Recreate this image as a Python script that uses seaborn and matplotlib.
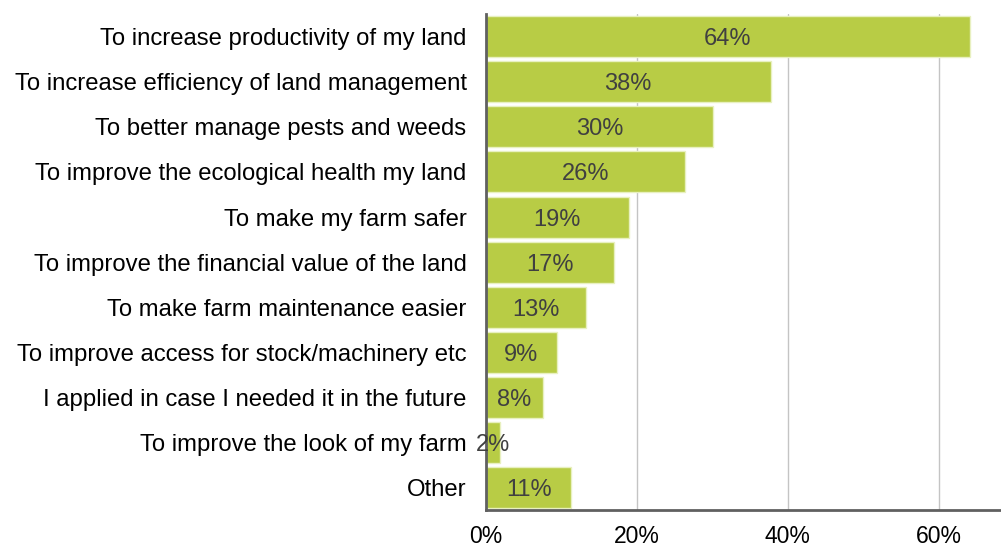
import matplotlib
matplotlib.use("Agg")
import matplotlib.pyplot as plt
import seaborn as sns
import pandas as pd

reasons = [
    "To increase productivity of my land",
    "To increase efficiency of land management",
    "To better manage pests and weeds",
    "To improve the ecological health my land",
    "To make my farm safer",
    "To improve the financial value of the land",
    "To make farm maintenance easier",
    "To improve access for stock/machinery etc",
    "I applied in case I needed it in the future",
    "To improve the look of my farm",
    "Other",
]
shares = [64, 38, 30, 26, 19, 17, 13, 9, 8, 2, 11]
bar_ends = [64.1, 37.7, 30.1, 26.4, 18.9, 16.9, 13.2, 9.4, 7.5, 1.9, 11.3]
x_ticks = [0, 20, 40, 60]

df = pd.DataFrame({"reason": reasons, "share": bar_ends})

sns.set_theme(style="white")
plt.rcParams["font.family"] = ["Liberation Sans", "DejaVu Sans"]

fig = plt.figure(figsize=(10.01, 5.47), dpi=100)
ax = fig.add_axes([0.4855, 0.0676, 0.5135, 0.9064])

sns.barplot(data=df, x="share", y="reason", orient="h", color="#B8CC45",
            saturation=1, width=0.91, edgecolor="#E8F0C0", linewidth=1, ax=ax)

for i, (v, lab) in enumerate(zip(bar_ends, shares)):
    ax.text(v / 2, i, f"{lab}%", ha="center", va="center_baseline",
            fontsize=17, color="#404040")

ax.set_xlim(0, 68.1)
ax.set_ylim(10.5, -0.5)
ax.set_xticks(x_ticks)
ax.set_xticklabels([f"{t}%" for t in x_ticks])
ax.xaxis.grid(True, color="#C4C4C4", linewidth=1)
ax.set_axisbelow(True)
ax.set_xlabel("")
ax.set_ylabel("")
ax.tick_params(axis="x", labelsize=16.5, colors="black", length=0, pad=11)
ax.tick_params(axis="y", labelsize=17.2, colors="black", length=0, pad=14)
for side in ("top", "right"):
    ax.spines[side].set_visible(False)
ax.spines["left"].set_color("#606060")
ax.spines["left"].set_linewidth(2)
ax.spines["bottom"].set_color("#606060")
ax.spines["bottom"].set_linewidth(2)

fig.savefig("out.png", dpi=100)
